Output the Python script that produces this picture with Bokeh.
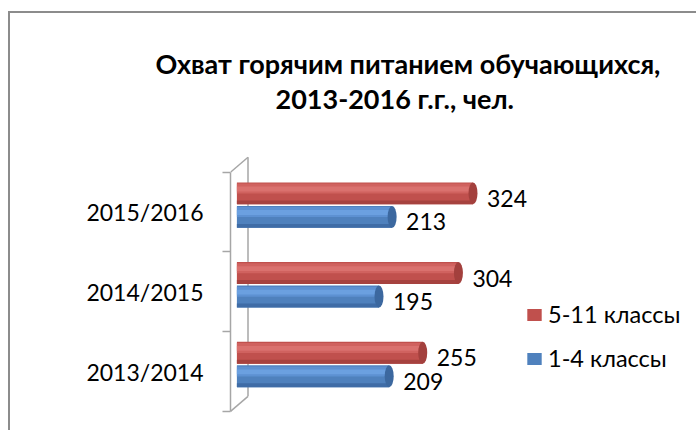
from bokeh.plotting import figure
from bokeh.models import Range1d, FixedTicker, Title, Legend, LegendItem, ColumnDataSource
from bokeh.embed import file_html
from bokeh.resources import INLINE
from bokeh.core.properties import value

# ---- data ----
years = ["2013/2014", "2014/2015", "2015/2016"]
senior = [255, 304, 324]   # 5-11 классы
junior = [209, 195, 213]   # 1-4 классы
series_names = ["5-11 классы", "1-4 классы"]
title_lines = ["Охват горячим питанием обучающихся,", "2013-2016 г.г., чел."]

# ---- styling / layout ----
FONT = "Lato"
W, H = 688, 419
LEFT, TOP = 220, 101
PX_X = 0.7287      # px per person
PX_Y = 79.7        # px per category
ZERO_OFF = 6.4     # px from frame left to x=0
frame_w = W - LEFT
frame_h = H - TOP

x_start = -ZERO_OFF / PX_X
xr = Range1d(x_start, x_start + frame_w / PX_X)
y_start = 1 - 61 / PX_Y
yr = Range1d(y_start, y_start + frame_h / PX_Y)

pos = [i + 1 for i in range(len(years))]

p = figure(width=W, height=H, x_range=xr, y_range=yr,
           output_backend="svg", toolbar_location=None,
           x_axis_location=None, min_border_left=LEFT, min_border_top=TOP,
           min_border_right=0, min_border_bottom=0)
p.styles = {"border-top": "2px solid #8c8c8c", "border-left": "2px solid #8c8c8c",
            "margin-top": "11px", "margin-left": "8px"}
p.outline_line_color = None
p.xgrid.visible = False
p.ygrid.visible = False
p.background_fill_color = "white"
p.border_fill_color = "white"

# title: two lines, added nearest-first
p.add_layout(Title(text=title_lines[1], align="left", offset=45, standoff=0,
                   text_font=FONT, text_font_style="bold", text_font_size="27px",
                   text_color="black"), "above")
p.add_layout(Title(text=title_lines[0], align="left", offset=-75, standoff=0,
                   text_font=FONT, text_font_style="bold", text_font_size="27px",
                   text_color="black"), "above")

# y axis (front wall edge)
ax = p.yaxis[0]
ax.ticker = FixedTicker(ticks=pos, minor_ticks=[0.5 + i for i in range(len(years) + 1)])
ax.major_label_overrides = {float(v): years[i] for i, v in enumerate(pos)}
ax.bounds = (0.5, len(years) + 0.5)
ax.axis_line_color = "#a6a6a6"
ax.axis_line_width = 1.5
ax.major_tick_line_color = None
ax.major_tick_out = 0
ax.major_tick_in = 0
ax.minor_tick_line_color = "#a6a6a6"
ax.minor_tick_line_width = 1.5
ax.minor_tick_out = 8
ax.minor_tick_in = 0
ax.major_label_standoff = 19
ax.major_label_text_font = FONT
ax.major_label_text_font_size = "23px"
ax.major_label_text_color = "black"

# 3D back wall edges
dxu = 17.5 / PX_X
dyu = 15 / PX_Y
bx = x_start + dxu
top_y = len(years) + 0.5
bot_y = 0.5
p.segment(x0=[x_start, bx, x_start], y0=[top_y, top_y + dyu, bot_y],
          x1=[bx, bx, bx], y1=[top_y + dyu, bot_y + dyu, bot_y + dyu],
          line_color="#a6a6a6", line_width=1.5)

BAR_H = 0.275
series = [
    (senior, +0.235, ["#C0504D", "#D0625F", "#DA716E", "#A6423F", "#A3403D"]),
    (junior, -0.06, ["#4F81BD", "#5D91D2", "#6BA0E0", "#3F6CA6", "#3C689F"]),
]
base_renderers = []
for vals, off, cols in series:
    ys = [v + off for v in pos]
    src = ColumnDataSource(dict(y=ys, right=vals, zero=[0] * len(vals),
                                label=[str(v) for v in vals]))
    base = p.hbar(y="y", left="zero", right="right", height=BAR_H, source=src,
                  fill_color=cols[0], line_color=None)
    base_renderers.append(base)
    # upper lighter band
    p.hbar(y=[y + BAR_H * 0.22 for y in ys], left=0, right=vals, height=BAR_H * 0.46,
           fill_color=cols[1], line_color=None)
    p.hbar(y=[y + BAR_H * 0.2 for y in ys], left=0, right=vals, height=BAR_H * 0.22,
           fill_color=cols[2], line_color=None)
    # darker lower edge
    p.hbar(y=[y - BAR_H * 0.41 for y in ys], left=0, right=vals, height=BAR_H * 0.18,
           fill_color=cols[3], line_color=None)
    # end cap
    p.ellipse(x="right", y="y", width=9, width_units="screen", height=BAR_H,
              height_units="data", source=src, fill_color=cols[4], line_color=None)
    # value labels
    p.text(x="right", y="y", text="label", source=src,
           x_offset=14, y_offset=5, text_baseline="middle", text_align="left",
           text_font=value(FONT), text_font_size="23px", text_color="black")

legend = Legend(items=[LegendItem(label=series_names[0], renderers=[base_renderers[0]]),
                       LegendItem(label=series_names[1], renderers=[base_renderers[1]])],
                location=(295, 60), orientation="vertical",
                border_line_color=None, background_fill_alpha=0,
                padding=0, margin=0, spacing=16,
                glyph_width=18, glyph_height=15, label_standoff=5,
                label_text_font=FONT, label_text_font_size="23.5px",
                label_text_color="black")
p.add_layout(legend)

open("out.html", "w").write(file_html(p, INLINE))
